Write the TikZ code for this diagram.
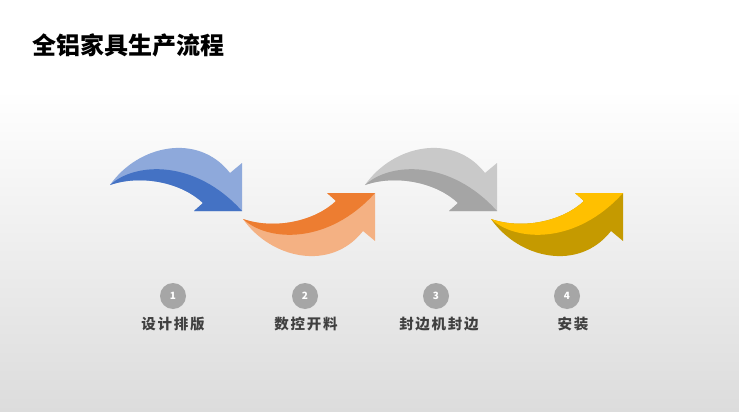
\documentclass[tikz,border=0pt]{standalone}
\usepackage{fontspec}
\usepackage{xcolor}
\newfontfamily\cjk{Noto Sans CJK SC}
\newfontfamily\cjkspaced{Noto Sans CJK SC}[LetterSpace=12]

\definecolor{bluelight}{HTML}{8EA9DB}
\definecolor{bluedark}{HTML}{4472C4}
\definecolor{orangelight}{HTML}{F4B183}
\definecolor{orangedark}{HTML}{ED7D31}
\definecolor{graylight}{HTML}{C9C9C9}
\definecolor{graydark}{HTML}{A5A5A5}
\definecolor{goldlight}{HTML}{FFC000}
\definecolor{golddark}{HTML}{C59A00}
\definecolor{numgray}{HTML}{A6A6A6}
\definecolor{labelgray}{HTML}{404040}
\definecolor{bggray}{HTML}{DCDCDC}

\newcommand{\bentarrow}[2]{%
	\fill[#1] (0,0) .. controls (28,-40) and (88,-53) .. (120,-12) -- (132,-22) -- (132,26) -- (84,26) -- (93,18) .. controls (72,-2) and (32,-11) .. cycle;
	\fill[#2] (0,0) .. controls (25,-23) and (85,-26) .. (132,26) -- (84,26) -- (93,18) .. controls (72,-2) and (32,-11) .. cycle;
}

\tikzset{
	stepnum/.style = {circle, fill = numgray, minimum size = 26pt, inner sep = 0pt, text = white, font = \cjk\bfseries\fontsize{10}{10}\selectfont},
	steplabel/.style = {inner sep = 0pt, text = labelgray, font = \cjkspaced\bfseries\fontsize{14.5}{16}\selectfont}
}

\begin{document}
\begin{tikzpicture}[x = 1pt, y = -1pt]
		\useasboundingbox (0,0) rectangle (739,412);
		
		\fill[white] (0,0) rectangle (739,90);
		\shade[top color = white, bottom color = bggray] (0,90) rectangle (739,412);
		
		\node[anchor = west, inner sep = 0pt, font = \cjk\bfseries\fontsize{24}{26}\selectfont] (title) at (32,45) {全铝家具生产流程};
		
		\begin{scope}[shift = {(110,185)}]
			\bentarrow{bluelight}{bluedark}
		\end{scope}
		\begin{scope}[shift = {(243,219)}, yscale = -1]
			\bentarrow{orangelight}{orangedark}
		\end{scope}
		\begin{scope}[shift = {(365,185)}]
			\bentarrow{graylight}{graydark}
		\end{scope}
		\begin{scope}[shift = {(491,219)}, yscale = -1]
			\bentarrow{golddark}{goldlight}
		\end{scope}
		
		\node[stepnum] (num1) at (173,296) {1};
		\node[stepnum] (num2) at (305,296) {2};
		\node[stepnum] (num3) at (436,296) {3};
		\node[stepnum] (num4) at (567,296) {4};
		
		\node[steplabel] (step1) at (173,324) {设计排版};
		\node[steplabel] (step2) at (306,324) {数控开料};
		\node[steplabel] (step3) at (439,324) {封边机封边};
		\node[steplabel] (step4) at (573,324) {安装};
	\end{tikzpicture}
\end{document}
